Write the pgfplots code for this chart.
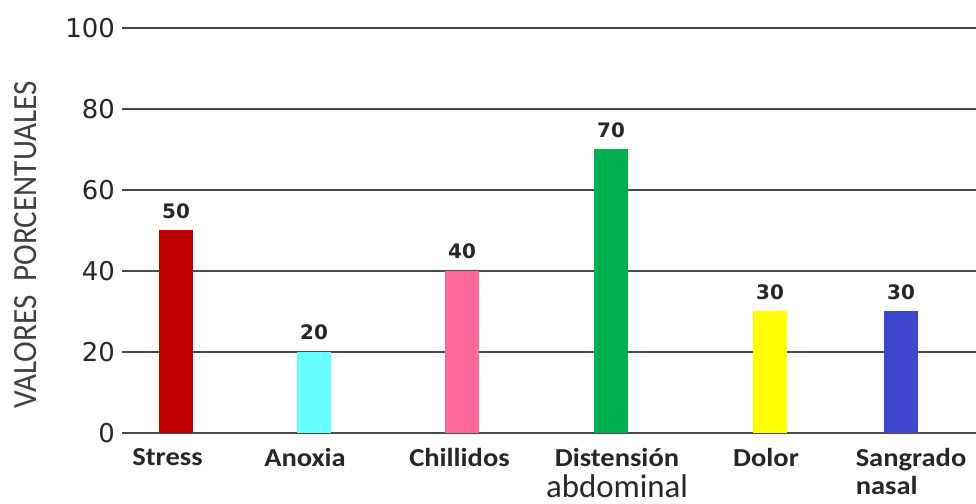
\documentclass[border=0pt]{standalone}
\usepackage{pgfplots}
\pgfplotsset{compat=1.18}
\usepackage{fontspec}
\setmainfont{Carlito}
\newfontfamily\catfont[FakeStretch=1.1]{Carlito}
\newfontfamily\ylabfont[FakeStretch=0.92]{Carlito}
\newfontfamily\dejavu{DejaVu Sans}
\definecolor{cStress}{HTML}{C00000}
\definecolor{cAnoxia}{HTML}{66FFFF}
\definecolor{cChill}{HTML}{FF6699}
\definecolor{cDist}{HTML}{00B050}
\definecolor{cDolor}{HTML}{FFFF00}
\definecolor{cSang}{HTML}{3F48CC}
\definecolor{gridc}{HTML}{4A4A4A}
\begin{document}
\begin{tikzpicture}
\path[use as bounding box] (-122bp,-71bp) rectangle (854bp,433bp);
\begin{axis}[
  at={(0,0)}, anchor=south west,
  scale only axis, width=854bp, height=405bp,
  ymin=0, ymax=100, ytick={0,20,...,100},
  xmin=122, xmax=976,
  xtick={167.5,305,459.5,617,766,911},
  xticklabels={Stress, Anoxia, Chillidos, {Distensión\\[-4bp]{\rmfamily\mdseries\fontsize{33}{35}\selectfont abdominal}}, Dolor, {Sangrado\\[-7bp]\rlap{nasal}\hphantom{Sangrado}}},
  xticklabel style={font=\catfont\fontsize{26}{35}\selectfont\bfseries, text=black!85, align=center, anchor=north, yshift=-15bp, inner sep=0pt},
  yticklabel style={font=\dejavu\fontsize{26}{26}\selectfont, text=black!85, anchor=east, xshift=-7bp, inner sep=0pt},
  /pgf/number format/assume math mode=true,
  ymajorgrids, grid style={gridc, line width=2.8bp},
  axis line style={draw=none},
  major tick length=0pt,
  ylabel={VALORES\ \ PORCENTUALES},
  ylabel style={font=\ylabfont\fontsize{34}{34}\selectfont, text=black!75, at={(axis description cs:-0.1124,0.464)}, anchor=center, rotate=0},
  ybar, bar width=34bp, bar shift=0pt,
  nodes near coords,
  nodes near coords style={font=\dejavu\fontsize{20}{20}\selectfont\bfseries, text=black!85, inner sep=0pt, anchor=south, yshift=12bp},
]
\addplot[fill=cStress, draw=none] coordinates {(176,50)};
\addplot[fill=cAnoxia, draw=none] coordinates {(314,20)};
\addplot[fill=cChill, draw=none] coordinates {(462,40)};
\addplot[fill=cDist, draw=none] coordinates {(611,70)};
\addplot[fill=cDolor, draw=none] coordinates {(770,30)};
\addplot[fill=cSang, draw=none] coordinates {(901,30)};
\end{axis}
\end{tikzpicture}
\end{document}
